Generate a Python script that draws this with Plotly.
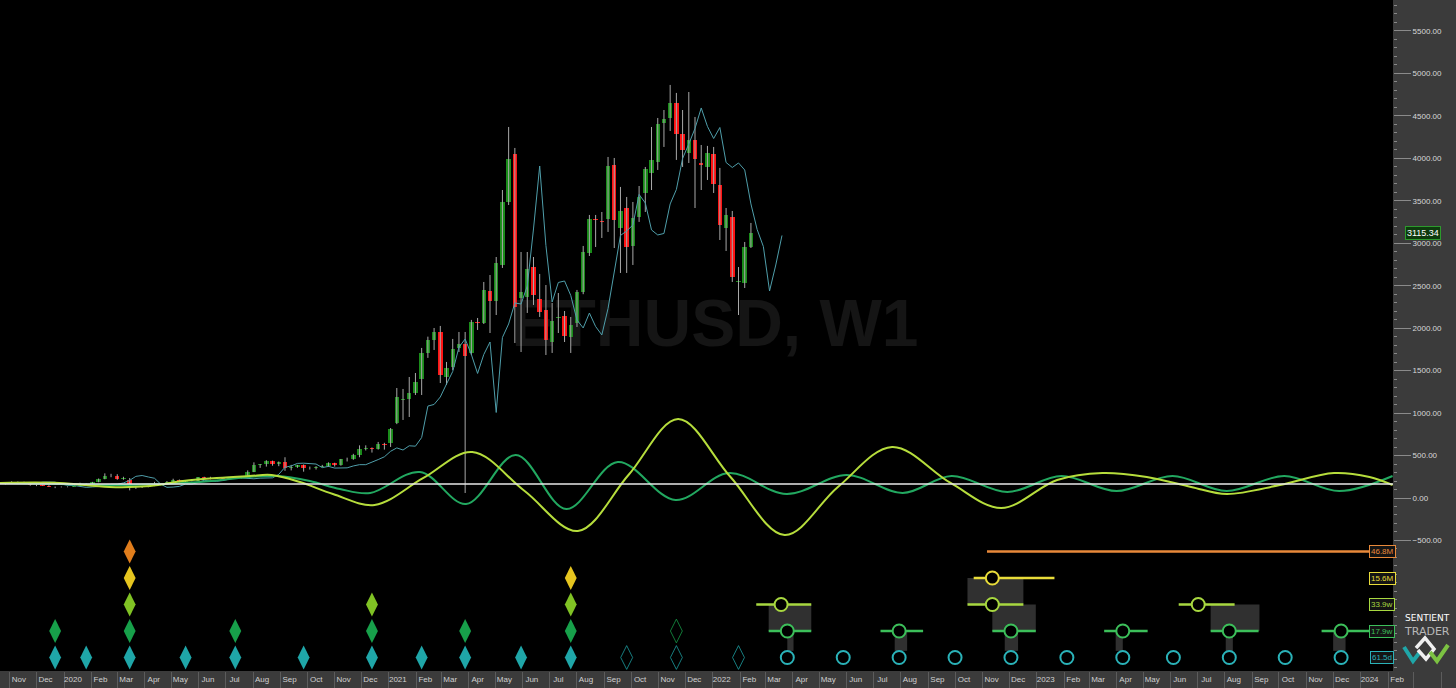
import numpy as np
import pandas as pd
import plotly.graph_objects as go

W, H = 1456, 688
STRIP = 17
PLOT_H = H - STRIP
PANEL_X = 1393 / W
PX_PER_DAY = 0.8875
X_AT_2020 = 64  # pixel of 2020-01-01 (layout calibration)

# ----------------------------- DATA -----------------------------
candle_start = "2019-10-27"  # weekly candles
open_ = [170, 180, 183, 185, 184, 151, 150, 147, 132, 128, 127, 135, 144, 167, 168, 189, 223, 265, 262, 218,
         215, 124, 133, 131, 143, 158, 170, 194, 210, 186, 200, 206, 243, 232, 232, 230, 225, 240, 238, 235,
         310, 390, 395, 430, 395, 425, 355, 365, 385, 355, 355, 370, 380, 410, 385, 455, 460, 510, 575, 590, 580,
         635, 648, 883, 1150, 1166, 1237, 1401, 1708, 1861, 1955, 1425, 1543, 1767, 1814, 1708, 2073, 2061, 2438,
         2320, 2744, 3486, 4051, 2355, 2367, 2720, 2344, 2214, 1837, 2120, 2143, 1896, 2061, 2426, 2885, 3286,
         3263, 3286, 3922, 3180, 3415, 2968, 3310, 3592, 3828, 3957, 4416, 4475, 4652, 4287, 4063, 4216, 3945,
         3898, 4051, 3686, 3180, 3310, 2544, 2532, 2956]
high = [185, 197, 194, 192, 185, 158, 152, 151, 135, 135, 137, 145, 180, 172, 190, 230, 290, 285, 280, 250,
        235, 145, 140, 148, 190, 175, 200, 227, 218, 208, 215, 245, 250, 250, 238, 235, 245, 243, 245, 325,
        420, 400, 445, 440, 430, 480, 390, 390, 395, 370, 375, 390, 420, 415, 460, 475, 520, 620, 620, 595, 660,
        650, 824, 1295, 1284, 1425, 1472, 1767, 1900, 2002, 2026, 1602, 1873, 1955, 1955, 2097, 2120, 2544, 2626,
        2838, 3627, 4369, 4122, 2897, 2897, 2838, 2638, 2508, 2297, 2414, 2202, 2132, 2450, 2968, 3333, 3333,
        3368, 4016, 4004, 3663, 3545, 3486, 3674, 3898, 4369, 4475, 4569, 4864, 4770, 4569, 4781, 4487, 4157,
        4146, 4134, 3887, 3415, 3380, 2720, 3015, 3239]
low = [160, 176, 180, 180, 145, 140, 143, 130, 116, 125, 126, 135, 143, 152, 165, 185, 220, 245, 215, 215,
       90, 107, 118, 126, 140, 150, 165, 190, 180, 185, 195, 200, 225, 220, 225, 218, 222, 235, 230, 232,
       305, 355, 370, 380, 375, 320, 325, 355, 310, 335, 335, 365, 365, 370, 380, 430, 450, 480, 560, 535, 570,
       570, 601, 870, 919, 954, 1213, 1213, 1650, 1743, 1354, 1331, 1507, 1719, 59, 1684, 1979, 2049, 1943,
       2155, 2709, 3450, 1825, 1719, 2179, 2273, 2132, 1684, 1708, 1943, 1837, 1708, 2014, 2400, 2850, 2956,
       3062, 3133, 2944, 2650, 2650, 2744, 3251, 3368, 3627, 3863, 4134, 4322, 3981, 3898, 3945, 3415, 3627,
       3745, 3592, 3038, 2909, 2544, 2155, 2473, 2944]
close = [180, 183, 185, 184, 151, 150, 147, 132, 128, 127, 135, 144, 167, 168, 189, 223, 265, 262, 218, 237,
         150, 133, 131, 143, 158, 170, 194, 210, 186, 200, 206, 243, 232, 233, 230, 225, 240, 238, 235, 310,
         390, 395, 430, 395, 425, 355, 365, 385, 355, 356, 370, 380, 410, 385, 455, 460, 510, 575, 590, 580, 640,
         620, 813, 1189, 1160, 1237, 1366, 1708, 1861, 1955, 1449, 1531, 1755, 1814, 1672, 2073, 2061, 2450, 2320,
         2768, 3486, 3992, 2249, 2426, 2697, 2391, 2190, 1861, 2085, 2132, 1908, 2037, 2426, 2897, 3286, 3270,
         3250, 3910, 3274, 3380, 2956, 3298, 3545, 3875, 3981, 4405, 4464, 4652, 4287, 4098, 4216, 3992, 3925,
         4063, 3698, 3215, 3333, 2603, 2560, 2956, 3115.34]
last_price = 3115.34
fld_shift_weeks = 5          # FLD = median price displaced forward
baseline_value = 165

wave_lime_dates = ["2019-10-20", "2019-12-27", "2020-02-21", "2020-04-07", "2020-05-14", "2020-06-21",
                   "2020-07-28", "2020-08-22", "2020-09-23", "2020-10-30", "2020-12-16", "2021-02-09",
                   "2021-04-05", "2021-06-03", "2021-08-02", "2021-09-28", "2021-11-23", "2022-01-21",
                   "2022-03-23", "2022-05-22", "2022-07-22", "2022-09-26", "2022-11-22", "2023-01-24",
                   "2023-03-16", "2023-05-05", "2023-06-24", "2023-08-03", "2023-10-02", "2023-12-02",
                   "2024-01-11", "2024-02-06"]
wave_lime_values = [177, 177, 130, 141, 200, 236, 259, 271, 188, 47, -82, 236, 542, 82, -389, 271, 930, 247,
                    -436, 130, 601, 177, -118, 212, 294, 247, 130, 47, 153, 294, 247, 153]
wave_green_dates = ["2019-10-20", "2019-12-27", "2020-03-15", "2020-06-02", "2020-07-28", "2020-08-28",
                    "2020-10-04", "2020-11-07", "2020-12-11", "2021-02-05", "2021-03-29", "2021-05-24",
                    "2021-07-20", "2021-09-16", "2021-11-20", "2022-01-19", "2022-03-25", "2022-06-01",
                    "2022-08-03", "2022-09-27", "2022-11-29", "2023-01-29", "2023-04-01", "2023-06-03",
                    "2023-08-03", "2023-10-07", "2023-12-08", "2024-02-06"]
wave_green_values = [177, 165, 153, 188, 247, 259, 200, 106, 59, 306, -71, 506, -130, 424, -24, 294, 47, 271,
                     59, 259, 71, 259, 82, 259, 82, 259, 82, 259]

cycle_names = ["61.5d", "17.9w", "33.9w", "15.6M", "46.8M"]
cycle_colors = ["#1fa6a8", "#17a04a", "#80c224", "#e6c51f", "#e07d1c"]
label_colors = ["#2ab2b8", "#3cbf5a", "#a8d840", "#e8dc3a", "#e8893a"]

troughs = {
    "61.5d": ["2019-12-22", "2020-01-26", "2020-03-15", "2020-05-17", "2020-07-12", "2020-09-27",
              "2020-12-13", "2021-02-07", "2021-03-28", "2021-05-30", "2021-07-25"],
    "17.9w": ["2019-12-22", "2020-03-15", "2020-07-12", "2020-12-13", "2021-03-28", "2021-07-25"],
    "33.9w": ["2020-03-15", "2020-12-13", "2021-07-25"],
    "15.6M": ["2020-03-15", "2021-07-25"],
    "46.8M": ["2020-03-15"],
}
troughs_open = {
    "61.5d": ["2021-09-26", "2021-11-21", "2022-01-30"],
    "17.9w": ["2021-11-21"],
}
future = {
    "61.5d": ["2022-03-26", "2022-05-28", "2022-07-30", "2022-10-01", "2022-12-03", "2023-02-04",
              "2023-04-08", "2023-06-04", "2023-08-06", "2023-10-08", "2023-12-10"],
    "17.9w": ["2022-03-26", "2022-07-30", "2022-12-03", "2023-04-08", "2023-08-06", "2023-12-10"],
    "33.9w": ["2022-03-19", "2022-11-12", "2023-07-02"],
    "15.6M": ["2022-11-12"],
}
future_lo = {
    "17.9w": ["2022-03-05", "2022-07-09", "2022-11-12", "2023-03-18", "2023-07-16", "2023-11-18"],
    "33.9w": ["2022-02-19", "2022-10-15", "2023-06-10"],
    "15.6M": ["2022-10-22"],
    "46.8M": ["2022-11-06"],
}
future_hi = {
    "17.9w": ["2022-04-22", "2022-08-26", "2022-12-31", "2023-05-06", "2023-09-08", "2024-01-12"],
    "33.9w": ["2022-04-22", "2022-12-17", "2023-08-12"],
    "15.6M": ["2023-01-21"],
    "46.8M": ["2024-01-12"],
}
box_x0 = ["2022-03-05", "2022-10-15", "2022-11-12", "2023-07-16"]
box_x1 = ["2022-04-22", "2022-12-17", "2022-12-31", "2023-09-09"]
box_r0 = [1, 2, 1, 1]
box_r1 = [2, 3, 2, 2]
bar_x0 = ["2022-03-26", "2022-07-25", "2022-11-26", "2023-03-31", "2023-08-02", "2023-12-01"]
bar_x1 = ["2022-04-02", "2022-08-08", "2022-12-11", "2023-04-08", "2023-08-10", "2023-12-15"]

y_ticks = list(range(-500, 5501, 500))
month_ticks = pd.date_range("2019-11-01", "2024-02-01", freq="MS")
month_text = [str(d.year) if d.month == 1 else d.strftime("%b") for d in month_ticks]

# ----------------------------- FIGURE -----------------------------
FONT = "Liberation Sans, Arial, sans-serif"
dates = pd.date_range(candle_start, periods=len(open_), freq="7D")
o, h, l, c = map(np.asarray, (open_, high, low, close))

fig = go.Figure()

# wicks
wx, wy = [], []
for d, lo_, hi_ in zip(dates, l, h):
    wx += [d, d, None]
    wy += [lo_, hi_, None]
fig.add_trace(go.Scatter(x=wx, y=wy, mode="lines", line=dict(color="#a8a8a8", width=1),
                         hoverinfo="skip"))
# bodies
fig.add_trace(go.Bar(x=dates, y=np.abs(c - o), base=np.minimum(o, c),
                     width=5 * 86400000,
                     marker=dict(color=np.where(c >= o, "#1a8c1a", "#ff1414").tolist(), line=dict(width=0))))
# FLD line
fig.add_trace(go.Scatter(x=dates + pd.Timedelta(weeks=fld_shift_weeks), y=(h + l) / 2, mode="lines",
                         line=dict(color="#4f9eaa", width=1)))
# cycle waves
fig.add_trace(go.Scatter(x=wave_green_dates, y=wave_green_values, mode="lines",
                         line=dict(color="#22a860", width=2, shape="spline", smoothing=1.0)))
fig.add_trace(go.Scatter(x=wave_lime_dates, y=wave_lime_values, mode="lines",
                         line=dict(color="#b6dd3c", width=2, shape="spline", smoothing=1.0)))

# bottom panel: range lines
for name in ["17.9w", "33.9w", "15.6M", "46.8M"]:
    k = cycle_names.index(name)
    xs, ys = [], []
    for a, b in zip(future_lo[name], future_hi[name]):
        xs += [a, b, None]
        ys += [name, name, None]
    fig.add_trace(go.Scatter(x=xs, y=ys, yaxis="y2", mode="lines",
                             line=dict(color=label_colors[k], width=2.5)))
# trough diamonds
for k, name in enumerate(cycle_names):
    fig.add_trace(go.Scatter(x=troughs[name], y=[name] * len(troughs[name]), yaxis="y2", mode="markers",
                             marker=dict(symbol="diamond-tall", size=17, color=cycle_colors[k],
                                         line=dict(width=0))))
    if name in troughs_open:
        fig.add_trace(go.Scatter(x=troughs_open[name], y=[name] * len(troughs_open[name]), yaxis="y2",
                                 mode="markers",
                                 marker=dict(symbol="diamond-tall-open", size=17,
                                             color=cycle_colors[k], line=dict(width=1, color=cycle_colors[k]),
                                             opacity=0.75)))
# future circles
for name, pts in future.items():
    k = cycle_names.index(name)
    fig.add_trace(go.Scatter(x=pts, y=[name] * len(pts), yaxis="y2", mode="markers",
                             marker=dict(symbol="circle", size=13, color="black",
                                         line=dict(width=2, color=label_colors[k]))))

# ----------------------------- LAYOUT -----------------------------
x_left = pd.Timestamp("2020-01-01") - pd.Timedelta(days=X_AT_2020 / PX_PER_DAY)
x_right = x_left + pd.Timedelta(days=W / PX_PER_DAY)
v_per_px = 500 / 42.46
y_bottom = -(PLOT_H - 498) * v_per_px
y_top = 498 * v_per_px
row_px0, row_step = 657.5, 26.5
y2_bottom = -(PLOT_H - row_px0) / row_step
y2_top = y2_bottom + PLOT_H / row_step


def P(px, py):
    return px / W, (PLOT_H - py) / PLOT_H


shapes = []
# right gray panel
shapes.append(dict(type="rect", xref="paper", yref="paper", x0=PANEL_X, x1=1, y0=0, y1=1,
                   fillcolor="#3b3b3b", line=dict(width=0), layer="below"))
# watermark
wx0, wy0 = P(500, 284)
wx1, wy1 = P(930, 349)
shapes.append(dict(type="rect", xref="paper", yref="paper", x0=wx0, x1=wx1, y0=wy1, y1=wy0,
                   line=dict(width=0), fillcolor="rgba(0,0,0,0)", layer="below",
                   label=dict(text="ETHUSD, W1", textposition="middle center",
                              font=dict(size=66, color="#151515", family=FONT, weight="bold"))))
# baseline
shapes.append(dict(type="line", xref="paper", yref="y", x0=0, x1=PANEL_X, y0=baseline_value,
                   y1=baseline_value, line=dict(color="#e8e8e8", width=1.5), layer="above"))
# gray boxes
for a, b, r0, r1 in zip(box_x0, box_x1, box_r0, box_r1):
    shapes.append(dict(type="rect", xref="x", yref="y2", x0=a, x1=b, y0=r0, y1=r1,
                       fillcolor="#303030", line=dict(width=0), layer="below"))
for a, b in zip(bar_x0, bar_x1):
    shapes.append(dict(type="rect", xref="x", yref="y2", x0=a, x1=b, y0=0.25, y1=1,
                       fillcolor="#303030", line=dict(width=0), layer="below"))


# logo strokes
def path(pts):
    s = ""
    for i, (px, py) in enumerate(pts):
        xx, yy = P(px, py)
        s += ("M" if i == 0 else "L") + f"{xx:.5f},{yy:.5f}"
    return s


shapes.append(dict(type="path", xref="paper", yref="paper", path=path([(1404, 647), (1413, 661), (1420, 652)]),
                   line=dict(color="#1fa6a8", width=4)))
shapes.append(dict(type="path", xref="paper", yref="paper",
                   path=path([(1416, 648), (1425, 638), (1434, 649), (1426, 659), (1418, 650)]),
                   line=dict(color="#f0f0f0", width=3.5)))
shapes.append(dict(type="path", xref="paper", yref="paper", path=path([(1430, 652), (1437, 661), (1448, 645)]),
                   line=dict(color="#7cc242", width=4)))

annotations = []
# right side cycle labels
for k, name in enumerate(cycle_names):
    annotations.append(dict(xref="paper", yref="y2", x=1382 / W, y=name, text=name, showarrow=False,
                            xanchor="center", yanchor="middle",
                            font=dict(size=8, color=label_colors[k], family=FONT),
                            bgcolor="#141414", bordercolor=label_colors[k], borderwidth=1, borderpad=1))
# price tag
annotations.append(dict(xref="paper", yref="y", x=1423 / W, y=last_price, text=f"{last_price:.2f}",
                        showarrow=False, xanchor="center", yanchor="middle",
                        font=dict(size=9, color="white", family=FONT),
                        bgcolor="#0e3a0e", bordercolor="#2c9a2c", borderwidth=1, borderpad=1))
# logo text
lx, ly = P(1427, 618)
annotations.append(dict(xref="paper", yref="paper", x=lx, y=ly, text="SENTIENT", showarrow=False,
                        xanchor="center", yanchor="middle", borderpad=0,
                        font=dict(size=9, color="white", family="DejaVu Sans")))
lx, ly = P(1427, 631)
annotations.append(dict(xref="paper", yref="paper", x=lx, y=ly, text="TRADER", showarrow=False,
                        xanchor="center", yanchor="middle", borderpad=0,
                        font=dict(size=11, color="#b8b8b8", family="DejaVu Sans")))

fig.update_layout(
    width=W, height=H,
    margin=dict(l=0, r=0, t=0, b=STRIP),
    paper_bgcolor="#3b3b3b", plot_bgcolor="black",
    showlegend=False, barmode="overlay", bargap=0, hovermode=False,
    shapes=shapes, annotations=annotations,
    xaxis=dict(type="date", range=[x_left, x_right], domain=[0, 1], showgrid=False, zeroline=False,
               tickvals=month_ticks, ticktext=month_text, ticks="", ticklabelshift=9, ticklabelstandoff=2,
               tickfont=dict(size=8, color="#d0d0d0", family=FONT),
               minor=dict(ticks="outside", ticklen=STRIP, tickcolor="#5c5c5c", dtick="M1",
                          tick0="2019-11-01", showgrid=False)),
    yaxis=dict(range=[y_bottom, y_top], anchor="free", position=PANEL_X, side="right",
               tickvals=y_ticks, tickformat=".2f", ticks="outside", ticklen=17, tickcolor="#8a8a8a",
               tickfont=dict(size=8, color="#d8d8d8", family=FONT), showgrid=False, zeroline=False,
               showline=False, minor=dict(ticks="outside", ticklen=3, dtick=100, tickcolor="#888888")),
    yaxis2=dict(type="category", categoryarray=cycle_names, overlaying="y", range=[y2_bottom, y2_top],
                visible=False),
)

fig.write_html("out.html", config={"displayModeBar": False, "staticPlot": True},
               post_script="document.body.style.margin='0';document.body.style.padding='0';")
